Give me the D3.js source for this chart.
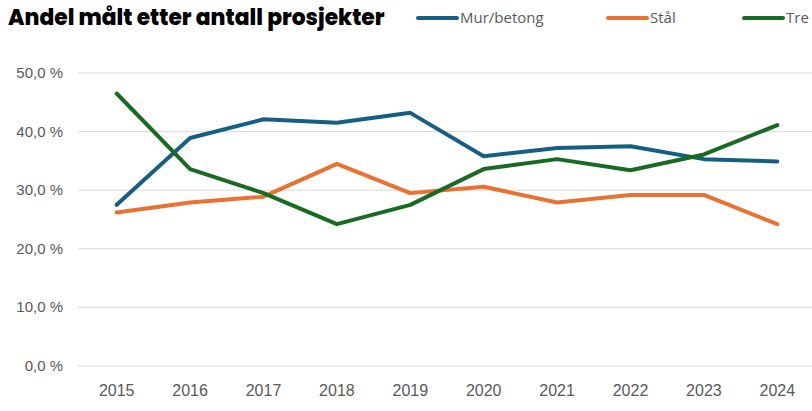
<!DOCTYPE html>
<html><head><meta charset="utf-8">
<script src="https://cdn.jsdelivr.net/npm/d3@7"></script>
<style>body{margin:0;background:#fff}svg{display:block}</style>
</head><body>
<svg id="c" width="812" height="411"></svg>
<script>
const years = ["2015","2016","2017","2018","2019","2020","2021","2022","2023","2024"];
const mur = [27.5,38.9,42.1,41.5,43.2,35.8,37.2,37.5,35.3,34.9];
const staal = [26.2,27.9,28.9,34.5,29.5,30.6,27.9,29.2,29.2,24.2];
const tre = [46.5,33.6,29.5,24.2,27.5,33.6,35.3,33.4,36.1,41.1];
const yTicks = [0,10,20,30,40,50];
const seriesNames = ["Mur/betong","Stål","Tre"];
const colors = ["#156082","#e97132","#196b24"];

const svg = d3.select("#c");
const x = d3.scaleBand().domain(years).range([80,814]);
const y = d3.scaleLinear().domain([0,50]).range([366,73]);

svg.append("text").attr("x",8).attr("y",25)
  .attr("font-family","Poppins, 'Open Sans', sans-serif").attr("font-weight",800)
  .attr("font-size",21.8).attr("fill","#000").text("Andel målt etter antall prosjekter");

// grid
svg.append("g").selectAll("line").data(yTicks).join("line")
  .attr("x1",78).attr("x2",812).attr("y1",d=>y(d)).attr("y2",d=>y(d))
  .attr("stroke","#d9d9d9").attr("stroke-width",1);

// y labels
svg.append("g").selectAll("text").data(yTicks).join("text")
  .attr("x",63).attr("y",d=>y(d)+5).attr("text-anchor","end")
  .attr("font-family","'Liberation Sans', Arial, sans-serif").attr("font-size",15)
  .attr("fill","#595959").text(d=>d3.format(".1f")(d).replace(".",",")+" %");

// x labels
svg.append("g").selectAll("text").data(years).join("text")
  .attr("x",d=>x(d)+x.bandwidth()/2).attr("y",396).attr("text-anchor","middle")
  .attr("font-family","'Liberation Sans', Arial, sans-serif").attr("font-size",16)
  .attr("fill","#595959").text(d=>d);

const line = d3.line().x((d,i)=>x(years[i])+x.bandwidth()/2).y(d=>y(d));
const data = [mur,staal,tre];
data.forEach((s,k)=>{
  svg.append("path").attr("d",line(s)).attr("fill","none")
    .attr("stroke",colors[k]).attr("stroke-width",4).attr("stroke-linejoin","round").attr("stroke-linecap","round");
});

// legend
const legX = [417,607,743];
seriesNames.forEach((n,k)=>{
  svg.append("line").attr("x1",legX[k]+1).attr("x2",legX[k]+40).attr("y1",18).attr("y2",18)
    .attr("stroke",colors[k]).attr("stroke-width",4).attr("stroke-linecap","round");
  svg.append("text").attr("x",legX[k]+43).attr("y",23)
    .attr("font-family","'Open Sans', sans-serif").attr("font-size",15)
    .attr("fill","#595959").text(n);
});
</script>
</body></html>
